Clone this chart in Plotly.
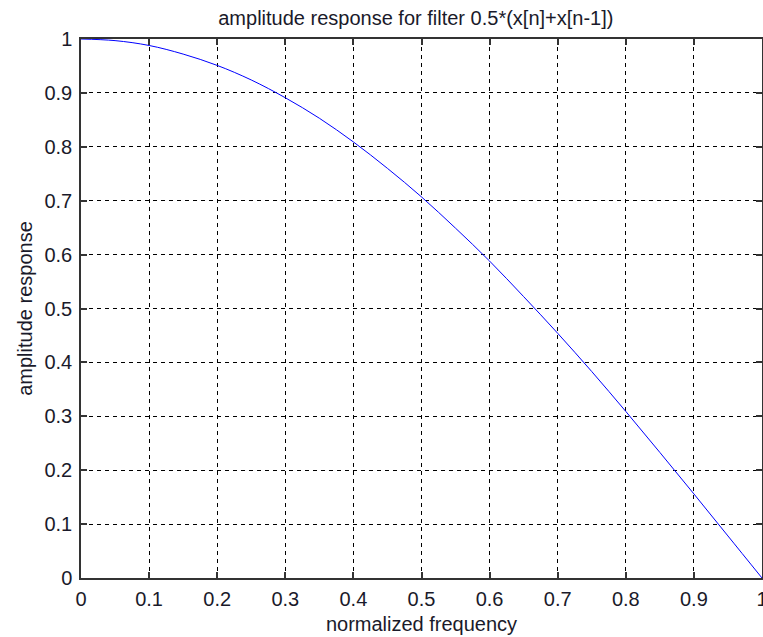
import plotly.graph_objects as go

freq = [0.0, 0.05, 0.1, 0.15, 0.2, 0.25, 0.3, 0.35, 0.4, 0.45, 0.5,
        0.55, 0.6, 0.65, 0.7, 0.75, 0.8, 0.85, 0.9, 0.95, 1.0]
amp = [1.0, 0.997, 0.988, 0.972, 0.951, 0.924, 0.891, 0.853, 0.809, 0.760, 0.707,
       0.649, 0.588, 0.522, 0.454, 0.383, 0.309, 0.233, 0.156, 0.078, 0.0]
tick_vals = [0, 0.1, 0.2, 0.3, 0.4, 0.5, 0.6, 0.7, 0.8, 0.9, 1]
tick_text = ["0", "0.1", "0.2", "0.3", "0.4", "0.5", "0.6", "0.7", "0.8", "0.9", "1"]

FONT = "Liberation Sans, Arial"
TXT = "#1a1a2a"

fig = go.Figure(go.Scatter(x=freq, y=amp, mode="lines", line=dict(color="#0000ff", width=1, shape="spline"),
                           hoverinfo="skip"))

axis_common = dict(
    range=[0, 1], showgrid=True, gridcolor="black", gridwidth=1, griddash="4px,4px",
    showline=True, linecolor="#333333", linewidth=1.5, mirror="ticks",
    ticks="inside", ticklen=6, tickcolor="#333333", tickwidth=1.5,
    zeroline=False, tickvals=tick_vals, ticktext=tick_text, automargin=False,
    ticklabeloverflow="allow",
    tickfont=dict(family=FONT, size=20, color=TXT),
)

fig.update_layout(
    width=763, height=637,
    margin=dict(l=81, r=1, t=39, b=59, autoexpand=False),
    paper_bgcolor="white", plot_bgcolor="white",
    showlegend=False,
    title=dict(text="amplitude response for filter 0.5*(x[n]+x[n-1])", x=0.545, xanchor="center",
               y=0.972, yanchor="middle", automargin=False,
               font=dict(family=FONT, size=20, color=TXT)),
    xaxis=dict(axis_common, ticklabelstandoff=2, title=dict(text="normalized frequency", standoff=8,
               font=dict(family=FONT, size=20, color=TXT))),
    yaxis=dict(axis_common, ticklabelstandoff=3, title=dict(text="amplitude response", standoff=6,
               font=dict(family=FONT, size=20, color=TXT))),
)

fig.write_html(
    "out.html",
    config={"displayModeBar": False},
    post_script="document.body.style.margin='0';document.body.style.overflow='hidden';",
)
